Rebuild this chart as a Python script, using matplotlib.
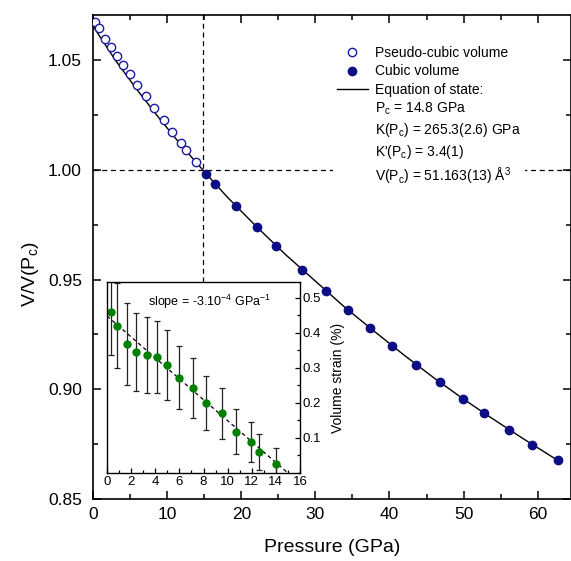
import numpy as np
import matplotlib.pyplot as plt
from matplotlib.lines import Line2D
from matplotlib.ticker import MultipleLocator

plt.rcParams['font.family'] = ['Liberation Sans', 'DejaVu Sans']
plt.rcParams['mathtext.fontset'] = 'custom'
plt.rcParams['mathtext.rm'] = 'Liberation Sans'
plt.rcParams['mathtext.it'] = 'Liberation Sans'

# pseudo-cubic (open) and cubic (filled) normalised volumes
p_pseudo = [0.31, 0.85, 1.65, 2.42, 3.26, 4.07, 4.97, 5.95, 7.11, 8.23, 9.53, 10.70, 11.91, 12.58, 13.92]
v_pseudo = [1.0673, 1.0645, 1.0597, 1.0559, 1.0517, 1.0476, 1.0436, 1.0385, 1.0335, 1.0283,
            1.0227, 1.0173, 1.0121, 1.0091, 1.0035]
p_cubic = [15.26, 16.47, 19.28, 22.09, 24.7, 28.2, 31.4, 34.4, 37.4, 40.3, 43.6, 46.8, 49.9,
           52.8, 56.1, 59.3, 62.7]
v_cubic = [0.9982, 0.9936, 0.9836, 0.9740, 0.9653, 0.9544, 0.9450, 0.9361, 0.9279, 0.9199,
           0.9110, 0.9032, 0.8958, 0.8891, 0.8815, 0.8748, 0.8679]

# equation of state curve
p_eos = [0, 3, 6, 9, 12, 14.8, 18, 22, 26, 30, 34, 38, 42, 46, 50, 54, 58, 63]
v_eos = [1.0655, 1.0500, 1.0362, 1.0232, 1.0108, 1.0, 0.9880, 0.9743, 0.9613, 0.9493, 0.9373,
         0.9263, 0.9155, 0.9052, 0.8955, 0.8864, 0.8776, 0.8670]
p_c = 14.8

# inset: volume strain
p_strain = [0.33, 0.80, 1.63, 2.40, 3.29, 4.12, 5.0, 6.0, 7.1, 8.2, 9.54, 10.7, 11.94, 12.63, 14.0]
strain = [0.458, 0.420, 0.368, 0.345, 0.336, 0.331, 0.308, 0.272, 0.243, 0.199, 0.170, 0.118,
          0.088, 0.060, 0.026]
strain_err = [0.122, 0.121, 0.117, 0.112, 0.109, 0.102, 0.099, 0.090, 0.085, 0.077, 0.073,
              0.064, 0.058, 0.052, 0.045]
fit_x = [0, 15]
fit_y = [0.448, 0.0]

legend_params = [r'P$_\mathregular{c}$ = 14.8 GPa',
                 r'K(P$_\mathregular{c}$) = 265.3(2.6) GPa',
                 r"K'(P$_\mathregular{c}$) = 3.4(1)",
                 r'V(P$_\mathregular{c}$) = 51.163(13) Å$^\mathregular{3}$']

fig = plt.figure(figsize=(5.71, 5.61), dpi=100)
ax = fig.add_axes([0.163, 0.1105, 0.837, 0.8625])
inset_rect = [0.1874, 0.1569, 0.338, 0.3404]

# vertical guide stops where the inset begins
inset_top = (inset_rect[1] + inset_rect[3] - 0.1105) / 0.8625
ax.axvline(p_c, ymin=inset_top, color='black', ls=(0, (4, 3)), lw=0.9, zorder=1)
ax.axhline(1.0, color='black', ls=(0, (4, 3)), lw=0.9, zorder=1)
ax.plot(p_eos, v_eos, color='black', lw=1.0, zorder=2)
ax.plot(p_pseudo, v_pseudo, 'o', mfc='white', mec='#1a1aa0', mew=1.0, ms=6, zorder=3)
ax.plot(p_cubic, v_cubic, 'o', color='#0d0d85', ms=6, zorder=3)

ax.set_xlim(0, 64.5)
ax.set_ylim(0.85, 1.0705)
ax.xaxis.set_major_locator(MultipleLocator(10))
ax.xaxis.set_minor_locator(MultipleLocator(5))
ax.yaxis.set_major_locator(MultipleLocator(0.05))
ax.yaxis.set_minor_locator(MultipleLocator(0.025))
ax.yaxis.set_major_formatter(plt.FormatStrFormatter('%.2f'))
ax.tick_params(which='both', direction='in', top=True, right=True, width=1.1, labelsize=12.5)
ax.tick_params(which='major', length=6)
ax.tick_params(which='minor', length=3.5)
ax.tick_params(axis='x', pad=6)
ax.tick_params(axis='y', pad=8)
for s in ax.spines.values():
    s.set_linewidth(1.2)
ax.set_xlabel('Pressure (GPa)', fontsize=14, labelpad=12)
ax.set_ylabel(r'V/V(P$_\mathregular{c}$)', fontsize=14)
ax.yaxis.set_label_coords(-0.11, 0.465)

handles = [Line2D([], [], ls='none', marker='o', mfc='white', mec='#1a1aa0', ms=6),
           Line2D([], [], ls='none', marker='o', color='#0d0d85', ms=6),
           Line2D([], [], color='black', lw=1.0)]
labels = ['Pseudo-cubic volume', 'Cubic volume', 'Equation of state:']
for t in legend_params:
    handles.append(Line2D([], [], color='none'))
    labels.append(t)
leg = ax.legend(handles, labels, loc='upper left', bbox_to_anchor=(0.583, 0.925),
                bbox_transform=fig.transFigure, fontsize=10, handlelength=2.2,
                handletextpad=0.5, labelspacing=0.3, borderpad=0.3, frameon=True,
                fancybox=False, borderaxespad=0)
leg.get_frame().set_facecolor('white')
leg.get_frame().set_edgecolor('none')
leg.get_frame().set_alpha(1)

# inset
axi = fig.add_axes(inset_rect)
axi.set_zorder(5)
axi.set_facecolor('white')
axi.plot(fit_x, fit_y, color='black', ls=(0, (3, 2.5)), lw=0.9)
axi.errorbar(p_strain, strain, yerr=strain_err, fmt='o', color='#008000', ms=5,
             ecolor='#222222', elinewidth=0.9, capsize=2.2, capthick=0.9)
axi.set_xlim(0, 16)
axi.set_ylim(0, 0.545)
axi.xaxis.set_major_locator(MultipleLocator(2))
axi.xaxis.set_minor_locator(MultipleLocator(1))
axi.set_yticks([0.1, 0.2, 0.3, 0.4, 0.5])
axi.yaxis.set_minor_locator(MultipleLocator(0.05))
axi.yaxis.tick_right()
axi.yaxis.set_label_position('right')
axi.tick_params(which='both', direction='in', labelsize=9.5, pad=2, width=0.9, left=False)
axi.tick_params(which='major', length=3.5)
axi.tick_params(which='minor', length=2)
for s in axi.spines.values():
    s.set_linewidth(1.0)
axi.set_ylabel('Volume strain (%)', fontsize=10, labelpad=7)
axi.text(0.215, 0.895, r'slope = -3.10$^\mathregular{-4}$ GPa$^\mathregular{-1}$',
         transform=axi.transAxes, fontsize=9, va='center')

fig.savefig('out.png', dpi=100)
